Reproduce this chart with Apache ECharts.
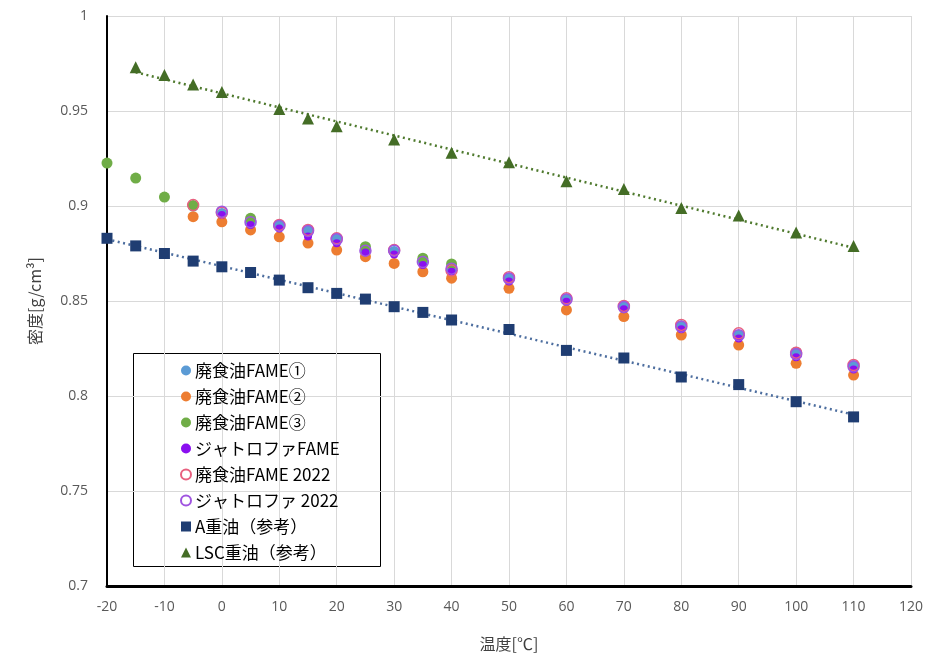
<!DOCTYPE html>
<html>
<head>
<meta charset="utf-8">
<script src="https://cdn.jsdelivr.net/npm/echarts@6/dist/echarts.min.js"></script>
<style>
html,body{margin:0;padding:0;background:#fff;}
#chart{width:947px;height:664px;}
</style>
</head>
<body>
<div id="chart"></div>
<script>
// Temperature [°C] for each measurement set
const tempFame1 = [-5, 0, 5, 10, 15, 20, 25, 30, 35, 40, 50, 60, 70, 80, 90, 100, 110];
const densFame1 = [0.900, 0.896, 0.892, 0.890, 0.887, 0.883, 0.877, 0.876, 0.871, 0.867, 0.862, 0.851, 0.847, 0.837, 0.832, 0.823, 0.816];

const tempFame2 = [-5, 0, 5, 10, 15, 20, 25, 30, 35, 40, 50, 60, 70, 80, 90, 100, 110];
const densFame2 = [0.8944, 0.8917, 0.8874, 0.8838, 0.8805, 0.8768, 0.8733, 0.8698, 0.8654, 0.8620, 0.8567, 0.8453, 0.8418, 0.8321, 0.8268, 0.8172, 0.8110];

const tempFame3 = [-20, -15, -10, -5, 5, 25, 35, 40];
const densFame3 = [0.9226, 0.9147, 0.9047, 0.9002, 0.8935, 0.8786, 0.8725, 0.8695];

const tempJatro = [0, 5, 10, 15, 20, 25, 30, 35, 40, 50, 60, 70, 80, 90, 100, 110];
const densJatro = [0.8953, 0.8900, 0.8882, 0.8840, 0.8804, 0.8755, 0.8745, 0.8690, 0.8654, 0.8602, 0.8496, 0.8456, 0.8351, 0.8303, 0.8204, 0.8140];

const tempFame2022 = [-5, 0, 10, 15, 20, 30, 40, 50, 60, 70, 80, 90, 100, 110];
const densFame2022 = [0.9005, 0.8965, 0.8900, 0.8874, 0.8830, 0.8768, 0.8660, 0.8625, 0.8514, 0.8474, 0.8374, 0.8330, 0.8228, 0.8163];

const tempJatro2022 = [0, 5, 10, 15, 20, 25, 30, 35, 40, 50, 60, 70, 80, 90, 100, 110];
const densJatro2022 = [0.8970, 0.8915, 0.8895, 0.8868, 0.8825, 0.8765, 0.8765, 0.8705, 0.8670, 0.8618, 0.8508, 0.8468, 0.8365, 0.8320, 0.8220, 0.8155];

const tempA = [-20, -15, -10, -5, 0, 5, 10, 15, 20, 25, 30, 35, 40, 50, 60, 70, 80, 90, 100, 110];
const densA = [0.883, 0.879, 0.875, 0.871, 0.868, 0.865, 0.861, 0.857, 0.854, 0.851, 0.847, 0.844, 0.840, 0.835, 0.824, 0.820, 0.810, 0.806, 0.797, 0.789];

const tempLSC = [-15, -10, -5, 0, 10, 15, 20, 30, 40, 50, 60, 70, 80, 90, 100, 110];
const densLSC = [0.973, 0.969, 0.964, 0.960, 0.951, 0.946, 0.942, 0.935, 0.928, 0.923, 0.913, 0.909, 0.899, 0.895, 0.886, 0.879];

const seriesNames = ['廃食油FAME①', '廃食油FAME②', '廃食油FAME③', 'ジャトロファFAME',
  '廃食油FAME 2022', 'ジャトロファ 2022', 'A重油（参考）', 'LSC重油（参考）'];

const xTicks = { min: -20, max: 120, interval: 10 };
const yTicks = { min: 0.7, max: 1.0, interval: 0.05 };

function pairs(xs, ys) { return xs.map((x, i) => [x, ys[i]]); }

// Least-squares linear trend through a data set, spanning its own x range
function linearTrend(xs, ys) {
  const n = xs.length;
  const mx = xs.reduce((a, b) => a + b, 0) / n;
  const my = ys.reduce((a, b) => a + b, 0) / n;
  let sxy = 0, sxx = 0;
  for (let i = 0; i < n; i++) { sxy += (xs[i] - mx) * (ys[i] - my); sxx += (xs[i] - mx) ** 2; }
  const k = sxy / sxx, b = my - k * mx;
  const x0 = Math.min(...xs), x1 = Math.max(...xs);
  return [[x0, k * x0 + b], [x1, k * x1 + b]];
}

const cjk = '"Noto Sans CJK JP", "Noto Sans", sans-serif';

function scatter(name, data, symbol, size, style, z) {
  return { name, type: 'scatter', data, symbol, symbolSize: size,
    itemStyle: Object.assign({ opacity: 1 }, style), z };
}

const chart = echarts.init(document.getElementById('chart'), null, { renderer: 'canvas' });
chart.setOption({
  animation: false,
  backgroundColor: '#fff',
  textStyle: { fontFamily: cjk },
  grid: { left: 107, right: 36, top: 16, bottom: 78 },
  xAxis: {
    type: 'value', min: xTicks.min, max: xTicks.max, interval: xTicks.interval,
    name: '温度[℃]', nameLocation: 'middle', nameGap: 50,
    nameTextStyle: { color: '#404040', fontSize: 16, fontFamily: cjk },
    axisLine: { onZero: false, lineStyle: { color: '#000', width: 3 } },
    axisTick: { show: false },
    axisLabel: { color: '#595959', fontSize: 14, margin: 14, fontFamily: '"Open Sans", sans-serif' },
    splitLine: { show: true, lineStyle: { color: '#d9d9d9', width: 1 } }
  },
  yAxis: {
    type: 'value', min: yTicks.min, max: yTicks.max, interval: yTicks.interval,
    name: '密度[g/cm³]', nameLocation: 'middle', nameGap: 64, nameRotate: 90,
    nameTextStyle: { color: '#404040', fontSize: 16, fontFamily: cjk },
    axisLine: { show: true, onZero: false, lineStyle: { color: '#000', width: 2 } },
    axisTick: { show: false },
    axisLabel: { color: '#595959', fontSize: 14, margin: 19, fontFamily: '"Open Sans", sans-serif',
      formatter: v => String(+v.toFixed(2)) },
    splitLine: { show: true, lineStyle: { color: '#d9d9d9', width: 1 } }
  },
  legend: {
    data: seriesNames,
    orient: 'vertical', left: 175, top: 357,
    itemWidth: 10, itemHeight: 10, itemGap: 9,
    textStyle: { color: '#000', fontSize: 17, fontFamily: cjk, padding: [0, 0, 0, -1] },
    selectedMode: false
  },
  graphic: [{
    type: 'rect', left: 133, top: 353, z: 0,
    shape: { width: 247, height: 213 },
    style: { fill: '#fff', stroke: '#000', lineWidth: 1 }
  }],
  series: [
    { name: 'A重油 trend', type: 'line', data: linearTrend(tempA, densA), symbol: 'none', z: 3,
      lineStyle: { color: '#4d6e9f', width: 2.5, type: [2, 3.5] } },
    { name: 'LSC重油 trend', type: 'line', data: linearTrend(tempLSC, densLSC), symbol: 'none', z: 3,
      lineStyle: { color: '#4f7a2e', width: 2.5, type: [2, 3.5] } },
    scatter(seriesNames[0], pairs(tempFame1, densFame1), 'circle', 11, { color: '#5b9bd5' }, 4),
    scatter(seriesNames[1], pairs(tempFame2, densFame2), 'circle', 11, { color: '#ed7d31' }, 5),
    scatter(seriesNames[2], pairs(tempFame3, densFame3), 'circle', 11, { color: '#70ad47' }, 6),
    scatter(seriesNames[3], pairs(tempJatro, densJatro), 'circle', 8, { color: '#8a0ff0' }, 7),
    scatter(seriesNames[4], pairs(tempFame2022, densFame2022), 'circle', 11,
      { color: 'rgba(255,255,255,0)', borderColor: '#e8607f', borderWidth: 1.5 }, 8),
    scatter(seriesNames[5], pairs(tempJatro2022, densJatro2022), 'circle', 11,
      { color: 'rgba(255,255,255,0)', borderColor: '#a055e0', borderWidth: 1.5 }, 9),
    scatter(seriesNames[6], pairs(tempA, densA), 'rect', 11, { color: '#1f3d72' }, 10),
    scatter(seriesNames[7], pairs(tempLSC, densLSC), 'triangle', 12, { color: '#446d26' }, 10)
  ]
});
</script>
</body>
</html>
